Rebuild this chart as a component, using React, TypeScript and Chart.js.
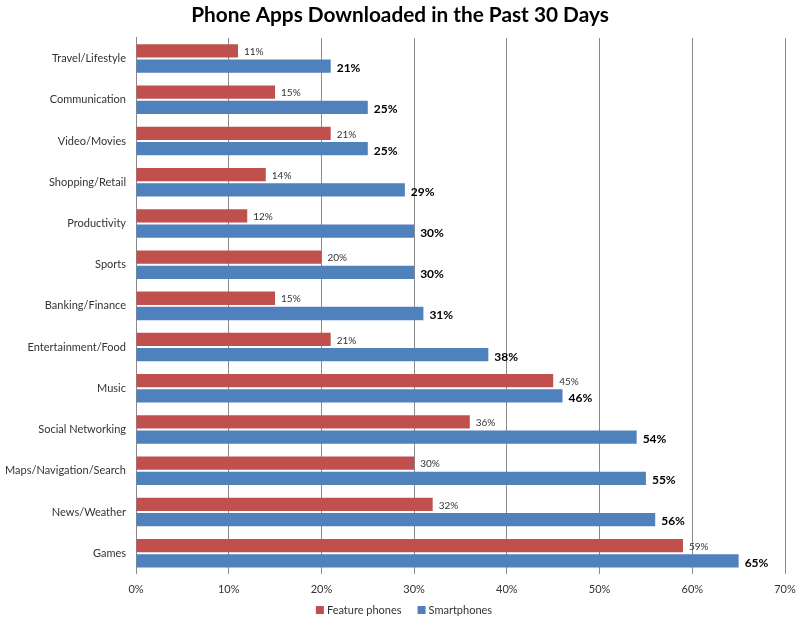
import React, { useEffect, useRef } from "react";
import { Chart, registerables } from "chart.js";

Chart.register(...registerables);

const categories = [
  "Travel/Lifestyle",
  "Communication",
  "Video/Movies",
  "Shopping/Retail",
  "Productivity",
  "Sports",
  "Banking/Finance",
  "Entertainment/Food",
  "Music",
  "Social Networking",
  "Maps/Navigation/Search",
  "News/Weather",
  "Games",
];
const featurePhones = [11, 15, 21, 14, 12, 20, 15, 21, 45, 36, 30, 32, 59];
const smartphones = [21, 25, 25, 29, 30, 30, 31, 38, 46, 54, 55, 56, 65];
const seriesNames = ["Feature phones", "Smartphones"];
const seriesColors = ["#C0504D", "#4F81BD"];
const titleText = "Phone Apps Downloaded in the Past 30 Days";

const FONT = "Lato, 'Open Sans', sans-serif";

const labelPlugin = {
  id: "barLabels",
  afterDatasetsDraw(chart: any) {
    const ctx = chart.ctx;
    chart.data.datasets.forEach((ds: any, di: number) => {
      const meta = chart.getDatasetMeta(di);
      meta.data.forEach((bar: any, i: number) => {
        const v = ds.data[i];
        ctx.save();
        if (di === 0) {
          ctx.font = `10px ${FONT}`;
          ctx.fillStyle = "#333";
        } else {
          ctx.font = `bold 12px ${FONT}`;
          ctx.fillStyle = "#000";
        }
        ctx.textAlign = "left";
        ctx.textBaseline = "middle";
        ctx.fillText(v + "%", bar.x + 6, bar.y + (di === 0 ? 1 : 2));
        ctx.restore();
      });
    });
  },
};

const legendPlugin = {
  id: "customLegend",
  afterDraw(chart: any) {
    const ctx = chart.ctx;
    ctx.save();
    ctx.font = `11px ${FONT}`;
    ctx.textBaseline = "middle";
    ctx.textAlign = "left";
    const box = 8;
    const gapBoxText = 3;
    const gapItems = 16;
    const items = chart.data.datasets.map((d: any) => ({
      label: d.label,
      color: d.backgroundColor,
      w: ctx.measureText(d.label).width,
    }));
    const total =
      items.reduce((a: number, it: any) => a + box + gapBoxText + it.w, 0) +
      gapItems * (items.length - 1);
    let x = 404 - total / 2;
    const y = 610;
    items.forEach((it: any) => {
      ctx.fillStyle = it.color;
      ctx.fillRect(x, y - box / 2, box, box);
      x += box + gapBoxText;
      ctx.fillStyle = "#333";
      ctx.fillText(it.label, x, y);
      x += it.w + gapItems;
    });
    ctx.restore();
  },
};

export default function App() {
  const ref = useRef<HTMLCanvasElement>(null);
  useEffect(() => {
    document.body.style.margin = "0";
    const chart = new Chart(ref.current!, {
      type: "bar",
      data: {
        labels: categories,
        datasets: [
          {
            label: seriesNames[0],
            data: featurePhones,
            backgroundColor: seriesColors[0],
            categoryPercentage: 0.74,
            barPercentage: 0.87,
          },
          {
            label: seriesNames[1],
            data: smartphones,
            backgroundColor: seriesColors[1],
            categoryPercentage: 0.74,
            barPercentage: 0.87,
          },
        ],
      },
      options: {
        indexAxis: "y",
        animation: false,
        responsive: false,
        layout: { padding: { left: 0, right: 0, top: 0, bottom: 18 } },
        plugins: {
          title: {
            display: true,
            text: titleText,
            font: { family: FONT, size: 20.8, weight: "bold" },
            color: "#000",
            padding: { top: 3, bottom: 10 },
          },
          legend: { display: false },
          tooltip: { enabled: false },
        },
        scales: {
          x: {
            min: 0,
            max: 70,
            ticks: {
              stepSize: 10,
              callback: (v: any) => v + "%",
              font: { family: FONT, size: 11 },
              color: "#333",
              padding: 9,
            },
            grid: { color: "#8a8a8a", drawTicks: false },
            border: { display: false },
            afterFit: (s: any) => {
              s.paddingLeft = 0;
              s.paddingRight = 15;
            },
          },
          y: {
            ticks: {
              font: { family: FONT, size: 11 },
              color: "#333",
              padding: 10,
            },
            grid: { display: false, drawTicks: false },
            border: { color: "#8a8a8a" },
            afterFit: (s: any) => {
              s.width = 136;
              s.paddingTop = 0;
              s.paddingBottom = 0;
            },
          },
        },
      },
      plugins: [labelPlugin, legendPlugin],
    });
    return () => chart.destroy();
  }, []);
  return <canvas ref={ref} width={800} height={623} />;
}
